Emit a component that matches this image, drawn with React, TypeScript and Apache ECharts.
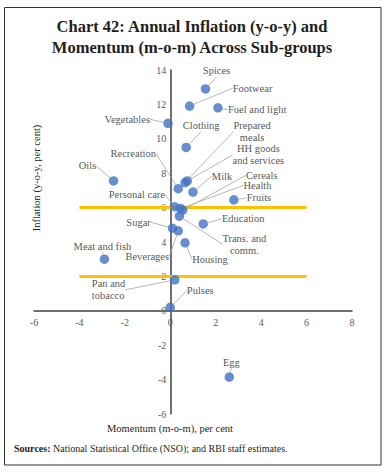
import React, { useEffect, useRef } from "react";
import * as echarts from "echarts";

const subgroups = [
  "Spices", "Footwear", "Fuel and light", "Vegetables", "Clothing",
  "Prepared\nmeals", "HH goods\nand services", "Oils", "Recreation", "Milk",
  "Cereals", "Health", "Fruits", "Personal care", "Trans. and\ncomm.",
  "Education", "Sugar", "Beverages", "Housing", "Meat and fish",
  "Pan and\ntobacco", "Pulses", "Egg",
];
const momentum = [
  1.55, 0.85, 2.1, -0.1, 0.7,
  0.65, 0.75, -2.5, 0.35, 1.0,
  0.55, 0.45, 2.8, 0.2, 0.4,
  1.45, 0.1, 0.35, 0.65, -2.9,
  0.2, 0.0, 2.6,
];
const inflation = [
  12.9, 11.9, 11.8, 10.9, 9.5,
  7.45, 7.55, 7.55, 7.1, 6.9,
  5.85, 5.95, 6.45, 6.05, 5.5,
  5.05, 4.8, 4.65, 3.95, 3.0,
  1.8, 0.2, -3.85,
];
const upperBand = [[-4, 6], [6, 6]];
const lowerBand = [[-4, 2], [6, 2]];
const xRange = { min: -6, max: 8, interval: 2 };
const yRange = { min: -6, max: 14, interval: 2 };

// label placement (pixel offsets from each marker centre) – styling only
const labelPlace: Record<string, { dx: number; dy: number; align?: string }> = {
  "Spices": { dx: 11, dy: -18 },
  "Footwear": { dx: 63, dy: -18 },
  "Fuel and light": { dx: 10, dy: 2, align: "left" },
  "Vegetables": { dx: -18, dy: -4, align: "right" },
  "Clothing": { dx: 15, dy: -22 },
  "Prepared\nmeals": { dx: 67, dy: -51 },
  "HH goods\nand services": { dx: 71, dy: -26 },
  "Oils": { dx: -26, dy: -15 },
  "Recreation": { dx: -45, dy: -35 },
  "Milk": { dx: 29, dy: -16 },
  "Cereals": { dx: 79, dy: -35 },
  "Health": { dx: 77, dy: -23 },
  "Fruits": { dx: 25, dy: -2 },
  "Personal care": { dx: -38, dy: -12 },
  "Trans. and\ncomm.": { dx: 65, dy: 28 },
  "Education": { dx: 40, dy: -5 },
  "Sugar": { dx: -34, dy: -6 },
  "Beverages": { dx: -31, dy: 26 },
  "Housing": { dx: 25, dy: 17 },
  "Meat and fish": { dx: -2, dy: -13 },
  "Pan and\ntobacco": { dx: -83, dy: 10, align: "left" },
  "Pulses": { dx: 30, dy: -17 },
  "Egg": { dx: 2, dy: -15 },
};

const SERIF = "'Liberation Serif', 'DejaVu Serif', serif";
const W = 384;
const H = 472;
const GRID = { left: 34, right: 32, top: 70, bottom: 58 };
const AXIS_LINE = { show: true, onZero: false, lineStyle: { color: "#404040", width: 1.5 } };
const AXIS_LABEL = { color: "#595959", fontFamily: SERIF, fontSize: 10 };

// shift each axis from the grid edge to the other axis's zero
const gridW = W - GRID.left - GRID.right;
const gridH = H - GRID.top - GRID.bottom;
const xAxisShift = -((0 - yRange.min) / (yRange.max - yRange.min)) * gridH;
const yAxisShift = -((0 - xRange.min) / (xRange.max - xRange.min)) * gridW;

export default function App() {
  const ref = useRef<HTMLDivElement>(null);
  useEffect(() => {
    if (!ref.current) return;
    const chart = echarts.init(ref.current, null, { renderer: "svg" });
    const points = subgroups.map((n, i) => ({ name: n, value: [momentum[i], inflation[i]] }));
    chart.setOption({
      animation: false,
      backgroundColor: "#ffffff",
      grid: { ...GRID, containLabel: false },
      xAxis: {
        type: "value", ...xRange, position: "bottom", offset: xAxisShift,
        axisLine: AXIS_LINE,
        axisTick: { show: false },
        splitLine: { show: false },
        axisLabel: { ...AXIS_LABEL, margin: 7 },
      },
      yAxis: {
        type: "value", ...yRange, position: "left", offset: yAxisShift,
        axisLine: AXIS_LINE,
        axisTick: { show: false },
        splitLine: { show: false },
        axisLabel: { ...AXIS_LABEL, margin: 4 },
      },
      graphic: [
        {
          type: "rect",
          shape: { x: 4.5, y: 7.5, width: 376.5, height: 457.5 },
          style: { fill: "none", stroke: "#333333", lineWidth: 1 },
          silent: true,
        },
        {
          type: "text",
          x: 192, y: 26,
          style: {
            text: "Chart 42: Annual Inflation (y-o-y) and",
            font: `bold 16.5px ${SERIF}`, fill: "#231f20", align: "center", verticalAlign: "middle",
          },
        },
        {
          type: "text",
          x: 192, y: 47,
          style: {
            text: "Momentum (m-o-m) Across Sub-groups",
            font: `bold 16.5px ${SERIF}`, fill: "#231f20", align: "center", verticalAlign: "middle",
          },
        },
        {
          type: "text",
          x: 36, y: 178, rotation: Math.PI / 2,
          style: {
            text: "Inflation (y-o-y, per cent)",
            font: `10.5px ${SERIF}`, fill: "#262626", align: "center", verticalAlign: "middle",
          },
        },
        {
          type: "text",
          x: 170, y: 428,
          style: {
            text: "Momentum (m-o-m), per cent",
            font: `10.5px ${SERIF}`, fill: "#262626", align: "center", verticalAlign: "middle",
          },
        },
        {
          type: "text",
          x: 14, y: 448,
          style: {
            text: "{b|Sources:} National Statistical Office (NSO); and RBI staff estimates.",
            rich: {
              b: { fontWeight: "bold", fontFamily: SERIF, fontSize: 10, fill: "#231f20" },
            },
            font: `10px ${SERIF}`, fill: "#231f20", align: "left", verticalAlign: "middle",
          },
        },
      ],
      series: [
        {
          type: "line", data: upperBand, symbol: "none", silent: true, z: 1,
          lineStyle: { color: "#FFC000", width: 3 },
        },
        {
          type: "line", data: lowerBand, symbol: "none", silent: true, z: 1,
          lineStyle: { color: "#FFC000", width: 3 },
        },
        {
          type: "scatter",
          data: points,
          symbolSize: 9.5,
          z: 3,
          itemStyle: { color: "#4472C4" },
          label: {
            show: true,
            formatter: "{b}",
            fontFamily: SERIF,
            fontSize: 10.5,
            lineHeight: 12,
            color: "#262626",
          },
          labelLine: { show: true, lineStyle: { color: "#a6a6a6", width: 0.8 } },
          labelLayout: (params: any) => {
            const name = subgroups[params.dataIndex];
            const p = labelPlace[name] || { dx: 0, dy: -12 };
            const r = params.rect;
            const cx = r.x + r.width / 2;
            const cy = r.y + r.height / 2;
            return { x: cx + p.dx, y: cy + p.dy, align: p.align || "center", verticalAlign: "middle" };
          },
        },
      ],
    });
    return () => chart.dispose();
  }, []);
  return (
    <div style={{ position: "absolute", left: 0, top: 0, width: W, height: H, background: "#fff" }}>
      <div ref={ref} style={{ width: W, height: H }} />
    </div>
  );
}
